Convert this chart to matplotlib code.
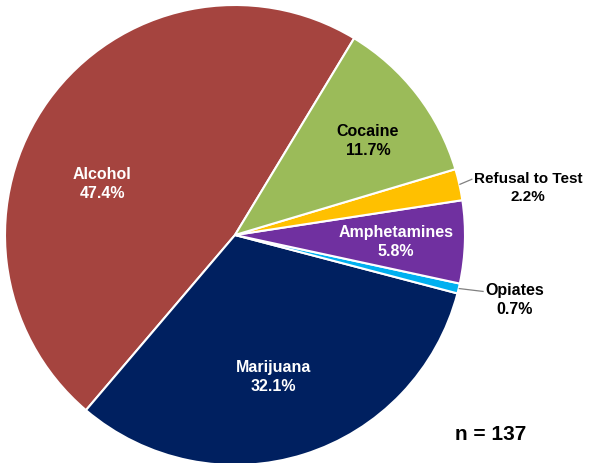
import numpy as np
import matplotlib
matplotlib.use("Agg")
import matplotlib.pyplot as plt

# Drug test results, share of positive tests (%)
categories = ["Alcohol", "Marijuana", "Opiates", "Amphetamines", "Refusal to Test", "Cocaine"]
shares = [47.4, 32.1, 0.7, 5.8, 2.2, 11.7]
sample_size = 137

colors = ["#A5443F", "#002060", "#00B0F0", "#7030A0", "#FFC000", "#9BBB59"]
text_colors = ["white", "white", "black", "white", "black", "black"]

# label placement: (angle offset from wedge middle in degrees, radius fraction, outside?)
label_layout = [
    (14.5, 0.62, False),
    (-2.3, 0.635, False),
    (0.5, 1.247, True),
    (-0.4, 0.70, False),
    (-3.3, 1.291, True),
    (-2.2, 0.710, False),
]
label_sizes = [11.5, 11.5, 11.5, 11.5, 11, 11.5]
# leader line end offsets (dx, dy) in axes units
leader_ends = {"Opiates": (25, -3), "Refusal to Test": (13, 5.5)}

plt.rcParams["font.family"] = ["Liberation Sans", "DejaVu Sans"]

W, H = 590, 464
fig = plt.figure(figsize=(W / 100, H / 100), dpi=100)
ax = fig.add_axes([0, 0, 1, 1])

cx, cy, R = 235, 228, 230
wedges, _ = ax.pie(
    shares, colors=colors, startangle=58.8, counterclock=True,
    center=(cx, cy), radius=R, frame=True,
    wedgeprops=dict(edgecolor="white", linewidth=1.5),
)
ax.set_xlim(0, W)
ax.set_ylim(0, H)
ax.set_aspect("equal")
ax.axis("off")

for w, name, val, (doff, rf, outside), tc, fs in zip(
        wedges, categories, shares, label_layout, text_colors, label_sizes):
    mid = np.deg2rad((w.theta1 + w.theta2) / 2 + doff)
    tx = cx + rf * R * np.cos(mid)
    ty = cy + rf * R * np.sin(mid)
    ax.text(tx, ty, f"{name}\n{val:.1f}%", ha="center", va="center", color=tc,
            fontsize=fs, fontweight="bold", linespacing=1.35)
    if outside:
        amid = np.deg2rad((w.theta1 + w.theta2) / 2)
        x0 = cx + R * np.cos(amid)
        y0 = cy + R * np.sin(amid)
        dx, dy = leader_ends[name]
        ax.plot([x0, x0 + dx], [y0, y0 + dy], color="#808080", linewidth=0.9,
                solid_capstyle="butt")

ax.text(491, 29, f"n = {sample_size}", ha="center", va="center",
        fontsize=15, fontweight="bold", color="black")

fig.savefig("out.png", dpi=100)
